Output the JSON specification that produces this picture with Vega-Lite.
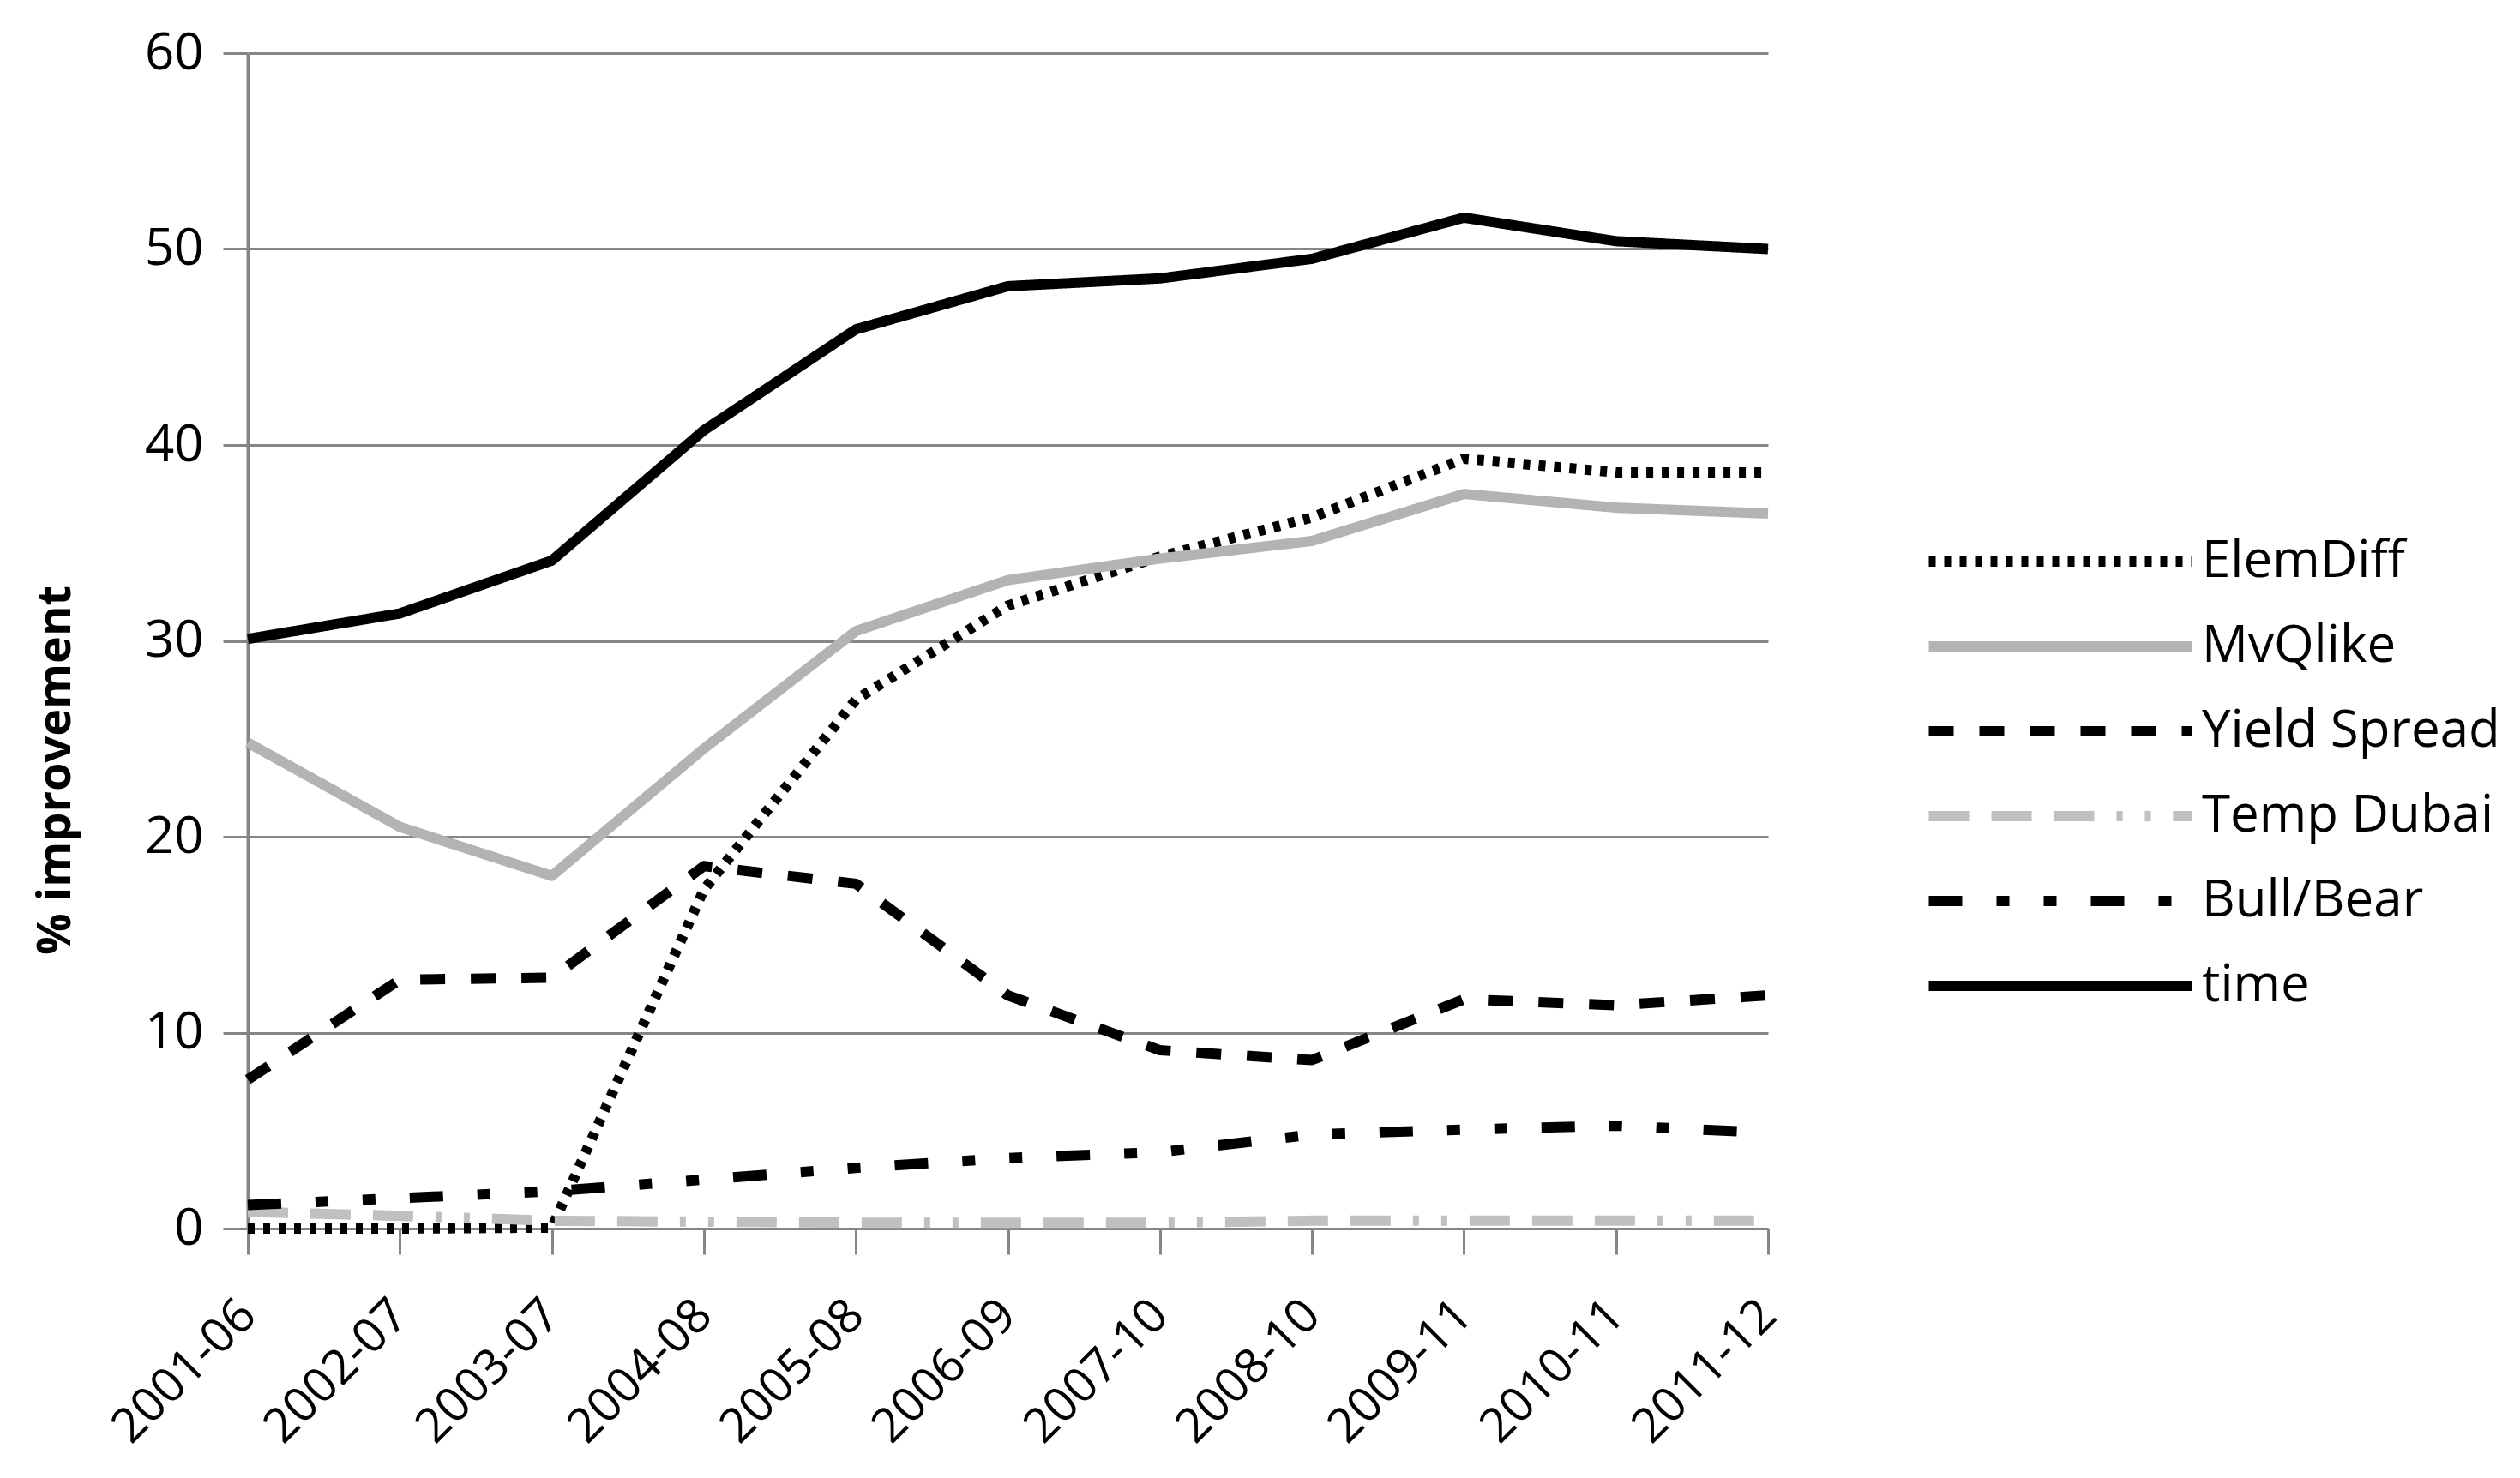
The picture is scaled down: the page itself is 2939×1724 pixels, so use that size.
{
  "$schema": "https://vega.github.io/schema/vega-lite/v6.json",
  "autosize": {"type": "none"},
  "width": 1773,
  "height": 1371,
  "padding": {"left": 289, "top": 62, "right": 877, "bottom": 291},
  "background": "white",
  "config": {
    "view": {"stroke": null},
    "font": "Open Sans"
  },
  "data": {
    "values": [
      {"date": "2001-06", "series": "ElemDiff", "value": 0},
      {"date": "2002-07", "series": "ElemDiff", "value": 0},
      {"date": "2003-07", "series": "ElemDiff", "value": 0.05},
      {"date": "2004-08", "series": "ElemDiff", "value": 17.3},
      {"date": "2005-08", "series": "ElemDiff", "value": 27.0},
      {"date": "2006-09", "series": "ElemDiff", "value": 31.8},
      {"date": "2007-10", "series": "ElemDiff", "value": 34.3},
      {"date": "2008-10", "series": "ElemDiff", "value": 36.3},
      {"date": "2009-11", "series": "ElemDiff", "value": 39.3},
      {"date": "2010-11", "series": "ElemDiff", "value": 38.6},
      {"date": "2011-12", "series": "ElemDiff", "value": 38.6},
      {"date": "2001-06", "series": "MvQlike", "value": 24.8},
      {"date": "2002-07", "series": "MvQlike", "value": 20.5},
      {"date": "2003-07", "series": "MvQlike", "value": 18.0},
      {"date": "2004-08", "series": "MvQlike", "value": 24.5},
      {"date": "2005-08", "series": "MvQlike", "value": 30.5},
      {"date": "2006-09", "series": "MvQlike", "value": 33.1},
      {"date": "2007-10", "series": "MvQlike", "value": 34.2},
      {"date": "2008-10", "series": "MvQlike", "value": 35.1},
      {"date": "2009-11", "series": "MvQlike", "value": 37.5},
      {"date": "2010-11", "series": "MvQlike", "value": 36.8},
      {"date": "2011-12", "series": "MvQlike", "value": 36.5},
      {"date": "2001-06", "series": "Yield Spread", "value": 7.6},
      {"date": "2002-07", "series": "Yield Spread", "value": 12.7},
      {"date": "2003-07", "series": "Yield Spread", "value": 12.8},
      {"date": "2004-08", "series": "Yield Spread", "value": 18.5},
      {"date": "2005-08", "series": "Yield Spread", "value": 17.6},
      {"date": "2006-09", "series": "Yield Spread", "value": 11.9},
      {"date": "2007-10", "series": "Yield Spread", "value": 9.1},
      {"date": "2008-10", "series": "Yield Spread", "value": 8.6},
      {"date": "2009-11", "series": "Yield Spread", "value": 11.7},
      {"date": "2010-11", "series": "Yield Spread", "value": 11.4},
      {"date": "2011-12", "series": "Yield Spread", "value": 11.9},
      {"date": "2001-06", "series": "Temp Dubai", "value": 0.85},
      {"date": "2002-07", "series": "Temp Dubai", "value": 0.65},
      {"date": "2003-07", "series": "Temp Dubai", "value": 0.4},
      {"date": "2004-08", "series": "Temp Dubai", "value": 0.35},
      {"date": "2005-08", "series": "Temp Dubai", "value": 0.3},
      {"date": "2006-09", "series": "Temp Dubai", "value": 0.3},
      {"date": "2007-10", "series": "Temp Dubai", "value": 0.3},
      {"date": "2008-10", "series": "Temp Dubai", "value": 0.4},
      {"date": "2009-11", "series": "Temp Dubai", "value": 0.4},
      {"date": "2010-11", "series": "Temp Dubai", "value": 0.4},
      {"date": "2011-12", "series": "Temp Dubai", "value": 0.4},
      {"date": "2001-06", "series": "Bull/Bear", "value": 1.2},
      {"date": "2002-07", "series": "Bull/Bear", "value": 1.55},
      {"date": "2003-07", "series": "Bull/Bear", "value": 1.9},
      {"date": "2004-08", "series": "Bull/Bear", "value": 2.5},
      {"date": "2005-08", "series": "Bull/Bear", "value": 3.1},
      {"date": "2006-09", "series": "Bull/Bear", "value": 3.6},
      {"date": "2007-10", "series": "Bull/Bear", "value": 3.9},
      {"date": "2008-10", "series": "Bull/Bear", "value": 4.8},
      {"date": "2009-11", "series": "Bull/Bear", "value": 5.05},
      {"date": "2010-11", "series": "Bull/Bear", "value": 5.25},
      {"date": "2011-12", "series": "Bull/Bear", "value": 4.9},
      {"date": "2001-06", "series": "time", "value": 30.1},
      {"date": "2002-07", "series": "time", "value": 31.4},
      {"date": "2003-07", "series": "time", "value": 34.1},
      {"date": "2004-08", "series": "time", "value": 40.75},
      {"date": "2005-08", "series": "time", "value": 45.9},
      {"date": "2006-09", "series": "time", "value": 48.1},
      {"date": "2007-10", "series": "time", "value": 48.5},
      {"date": "2008-10", "series": "time", "value": 49.5},
      {"date": "2009-11", "series": "time", "value": 51.6},
      {"date": "2010-11", "series": "time", "value": 50.4},
      {"date": "2011-12", "series": "time", "value": 50.0}
    ]
  },
  "mark": {"type": "line", "strokeWidth": 12, "strokeCap": "butt", "strokeJoin": "round"},
  "encoding": {
    "x": {
      "field": "date",
      "type": "ordinal",
      "scale": {"type": "point", "padding": 0},
      "axis": {
        "title": null,
        "grid": false,
        "domainColor": "#868686",
        "domainWidth": 3,
        "tickColor": "#868686",
        "tickWidth": 3,
        "tickSize": 30,
        "labelAngle": -45,
        "labelAlign": "right",
        "labelBaseline": "middle",
        "labelPadding": 62,
        "labelOffset": 0,
        "labelLimit": 0,
        "labelFontSize": 56,
        "labelColor": "#000000",
        "labelFont": "Open Sans"
      }
    },
    "y": {
      "field": "value",
      "type": "quantitative",
      "scale": {"domain": [0, 60], "nice": false, "zero": true},
      "axis": {
        "values": [0, 10, 20, 30, 40, 50, 60],
        "title": "% improvement",
        "titleFontSize": 54,
        "titleFontWeight": "bold",
        "titleFont": "Open Sans",
        "titleColor": "#000000",
        "titleX": -224,
        "titleY": 836,
        "titleAngle": -90,
        "titleAlign": "center",
        "titleBaseline": "middle",
        "titleLimit": 0,
        "grid": true,
        "gridColor": "#868686",
        "gridWidth": 3,
        "domainColor": "#868686",
        "domainWidth": 4,
        "tickColor": "#868686",
        "tickWidth": 3,
        "tickSize": 29,
        "labelPadding": 23,
        "labelFontSize": 60,
        "labelColor": "#000000",
        "labelFont": "Open Sans"
      }
    },
    "color": {
      "field": "series",
      "type": "nominal",
      "sort": ["ElemDiff", "MvQlike", "Yield Spread", "Temp Dubai", "Bull/Bear", "time"],
      "scale": {
        "domain": ["ElemDiff", "MvQlike", "Yield Spread", "Temp Dubai", "Bull/Bear", "time"],
        "range": ["#000000", "#b3b3b3", "#000000", "#c0c0c0", "#000000", "#000000"]
      },
      "legend": {
        "title": null,
        "orient": "none",
        "legendX": 2077,
        "legendY": 556,
        "padding": 0,
        "symbolType": "M-5,0H5",
        "symbolSize": 3770,
        "symbolStrokeWidth": 12,
        "labelFontSize": 60,
        "labelFont": "Open Sans",
        "labelColor": "#000000",
        "labelOffset": 128,
        "labelLimit": 0,
        "rowPadding": 32
      }
    },
    "strokeDash": {
      "field": "series",
      "type": "nominal",
      "sort": ["ElemDiff", "MvQlike", "Yield Spread", "Temp Dubai", "Bull/Bear", "time"],
      "scale": {
        "domain": ["ElemDiff", "MvQlike", "Yield Spread", "Temp Dubai", "Bull/Bear", "time"],
        "range": [[8, 10], [1, 0], [29, 30], [47, 26, 47, 26, 47, 26, 7, 26, 7, 26], [39, 40, 15, 40, 15, 40], [1, 0]]
      }
    },
    "order": {"field": "date"}
  }
}
